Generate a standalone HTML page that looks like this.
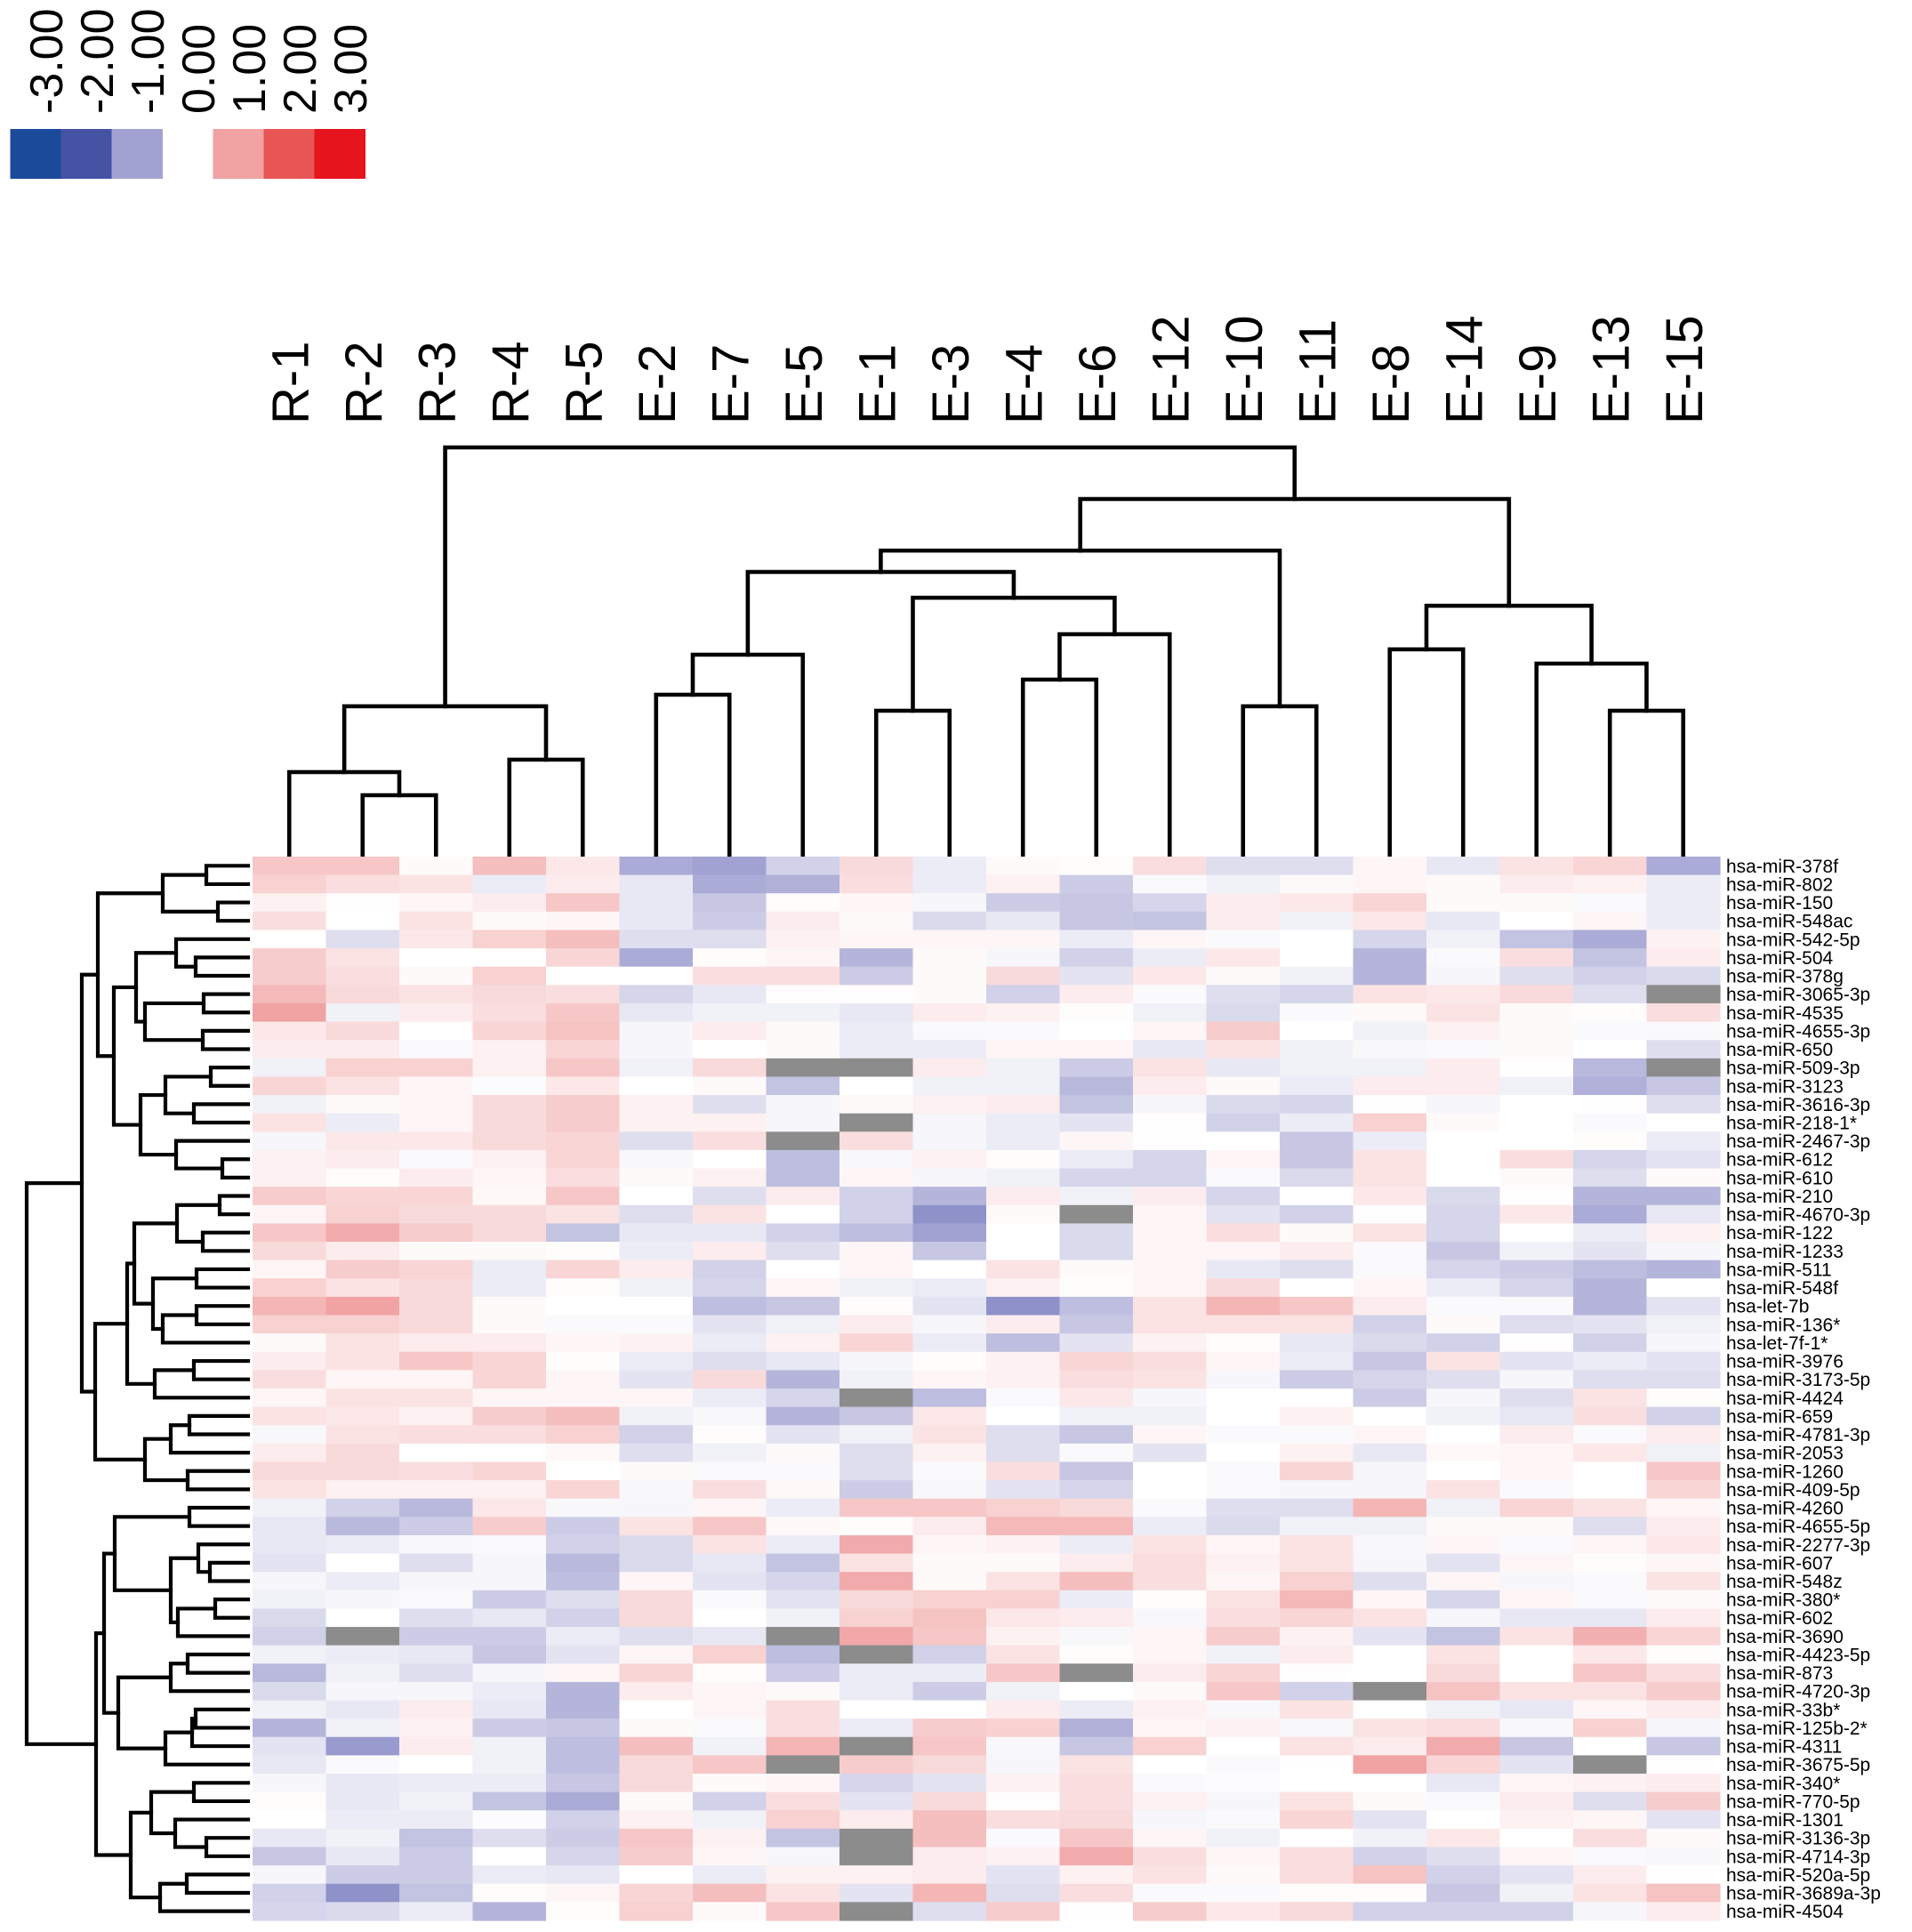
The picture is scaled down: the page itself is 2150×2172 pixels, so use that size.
<!DOCTYPE html>
<html><head><meta charset="utf-8"><style>
html,body{margin:0;padding:0;background:#fff;}
svg{display:block;font-family:"Liberation Sans",Arial,sans-serif;}
</style></head><body>
<svg id="chart" width="2150" height="2172" viewBox="0 0 2150 2172" xmlns="http://www.w3.org/2000/svg">
<g id="legend"></g>
<g id="collabels"></g>
<g id="topdend"></g>
<g id="leftdend"></g>
<g id="cells"></g>
<g id="rowlabels"></g>
</svg>
<script>
const legendValues = [-3, -2, -1, 0, 1, 2, 3];
const legendLabels = ["-3.00","-2.00","-1.00","0.00","1.00","2.00","3.00"];
const columns = ["R-1","R-2","R-3","R-4","R-5","E-2","E-7","E-5","E-1","E-3","E-4","E-6","E-12","E-10","E-11","E-8","E-14","E-9","E-13","E-15"];
const rows = ["hsa-miR-378f","hsa-miR-802","hsa-miR-150","hsa-miR-548ac","hsa-miR-542-5p","hsa-miR-504","hsa-miR-378g","hsa-miR-3065-3p","hsa-miR-4535","hsa-miR-4655-3p","hsa-miR-650","hsa-miR-509-3p","hsa-miR-3123","hsa-miR-3616-3p","hsa-miR-218-1*","hsa-miR-2467-3p","hsa-miR-612","hsa-miR-610","hsa-miR-210","hsa-miR-4670-3p","hsa-miR-122","hsa-miR-1233","hsa-miR-511","hsa-miR-548f","hsa-let-7b","hsa-miR-136*","hsa-let-7f-1*","hsa-miR-3976","hsa-miR-3173-5p","hsa-miR-4424","hsa-miR-659","hsa-miR-4781-3p","hsa-miR-2053","hsa-miR-1260","hsa-miR-409-5p","hsa-miR-4260","hsa-miR-4655-5p","hsa-miR-2277-3p","hsa-miR-607","hsa-miR-548z","hsa-miR-380*","hsa-miR-602","hsa-miR-3690","hsa-miR-4423-5p","hsa-miR-873","hsa-miR-4720-3p","hsa-miR-33b*","hsa-miR-125b-2*","hsa-miR-4311","hsa-miR-3675-5p","hsa-miR-340*","hsa-miR-770-5p","hsa-miR-1301","hsa-miR-3136-3p","hsa-miR-4714-3p","hsa-miR-520a-5p","hsa-miR-3689a-3p","hsa-miR-4504"];
const N = null;
const values = [
[0.6,0.6,0.05,0.7,0.25,-0.9,-1.0,-0.5,0.4,-0.2, 0.05,0.03,0.35,-0.35,-0.35,0.1,-0.25,0.3,0.45,-0.9],
[0.5,0.35,0.3,-0.2,0.2,-0.25,-0.9,-0.85,0.35,-0.2, 0.15,-0.55,-0.05,-0.15,0.05,0.1,0.05,0.2,0.15,-0.2],
[0.15,0.02,0.1,0.2,0.6,-0.25,-0.6,0.03,0.1,-0.1, -0.55,-0.6,-0.45,0.2,0.25,0.45,0.05,0.05,-0.05,-0.2],
[0.35,0,0.3,0.05,0.1,-0.25,-0.55,0.2,0.05,-0.4, -0.25,-0.6,-0.65,0.2,-0.15,0.25,-0.25,0,0.1,-0.2],
[0,-0.35,0.25,0.5,0.7,-0.35,-0.35,0.15,0.1,0.1, 0.1,-0.2,0.1,-0.05,0,-0.45,-0.15,-0.65,-0.9,0.15],
[0.55,0.3,0,0,0.45,-0.9,0.03,0.1,-0.8,0.05, -0.1,-0.5,-0.2,0.25,0,-0.8,-0.05,0.35,-0.65,0.2],
[0.55,0.35,0.05,0.5,0,0,0.35,0.35,-0.55,0.05, 0.4,-0.3,0.25,0.05,-0.15,-0.8,-0.1,-0.35,-0.5,-0.4],
[0.75,0.4,0.3,0.4,0.35,-0.45,-0.25,0.02,0.02,0.05, -0.5,0.2,-0.05,-0.35,-0.45,0.3,0.25,0.4,-0.35,N],
[1.0,-0.15,0.2,0.35,0.6,-0.25,-0.15,-0.15,-0.25,0.2, 0.15,0.03,-0.15,-0.4,-0.05,0.05,0.3,0.05,0.03,0.35],
[0.25,0.4,0,0.45,0.65,-0.1,0.2,0.05,-0.2,-0.05, -0.05,0,0.1,0.55,0,-0.15,0.15,0.05,-0.05,-0.05],
[0.2,0.2,-0.05,0.15,0.45,-0.1,0,0.05,-0.2,-0.2, 0.1,0.1,-0.25,0.3,-0.15,-0.08,-0.05,0.05,0,-0.35],
[-0.15,0.5,0.5,0.15,0.6,-0.15,0.4,N,N,0.2, -0.15,-0.55,0.3,-0.25,-0.15,-0.15,0.2,0.02,-0.75,N],
[0.45,0.3,0.1,-0.03,0.25,0,0.05,-0.65,0,-0.15, -0.15,-0.75,0.2,0.05,-0.2,0.2,0.2,-0.15,-0.85,-0.6],
[-0.15,0.05,0.1,0.4,0.55,0.15,-0.35,-0.1,0.05,0.15, 0.2,-0.65,-0.1,-0.4,-0.45,0.02,-0.1,0,0.02,-0.35],
[0.3,-0.2,0.1,0.4,0.55,0.15,0.15,-0.1,N,-0.1, -0.2,-0.3,0.02,-0.5,-0.2,0.5,0.05,0,-0.05,0],
[-0.1,0.25,0.25,0.4,0.45,-0.35,0.35,N,0.35,-0.1, -0.2,0.1,0.02,0,-0.6,-0.2,0,0,0.03,-0.2],
[0.15,0.2,-0.05,0.15,0.45,-0.08,0,-0.7,-0.08,0.15, 0.03,-0.2,-0.45,0.1,-0.6,0.3,0,0.35,-0.45,-0.3],
[0.15,0.03,0.2,0.1,0.35,0.05,0.15,-0.7,0.1,-0.1, -0.15,-0.45,-0.45,-0.05,-0.4,0.3,0,0.05,-0.35,0.05],
[0.55,0.45,0.45,0.08,0.6,0,-0.35,0.2,-0.5,-0.8, 0.2,-0.15,0.2,-0.45,0,0.25,-0.4,0.02,-0.8,-0.8],
[0.1,0.5,0.4,0.4,0.3,-0.35,0.3,0,-0.5,-1.2, 0.05,N,0.1,-0.3,-0.5,0.02,-0.45,0.25,-0.9,-0.25],
[0.6,0.9,0.55,0.4,-0.65,-0.25,-0.25,-0.5,-0.7,-1.0, 0,-0.4,0.1,0.35,0.05,0.3,-0.45,0,-0.2,0.15],
[0.4,0.2,0.05,0.05,0.03,-0.2,0.2,-0.35,0.1,-0.6, 0,-0.4,0.1,0.1,0.2,-0.05,-0.6,-0.15,-0.3,-0.1],
[0.1,0.55,0.45,-0.2,0.45,0.2,-0.5,0,0.1,0, 0.3,0.05,0.1,-0.25,-0.35,-0.05,-0.45,-0.55,-0.7,-0.8],
[0.5,0.3,0.4,-0.2,0.03,-0.15,-0.45,0.1,-0.15,-0.2, 0.15,0.03,0.1,0.4,0,0.1,-0.2,-0.45,-0.8,0],
[0.8,1.0,0.4,0.05,0,0,-0.7,-0.6,0.03,-0.3, -1.2,-0.7,0.3,0.8,0.6,0.2,-0.05,-0.05,-0.8,-0.3],
[0.5,0.5,0.4,0.05,-0.05,-0.05,-0.3,-0.15,0.2,-0.1, 0.2,-0.6,0.3,0.3,0.3,-0.5,0.05,-0.35,-0.3,-0.15],
[0.05,0.3,0.2,0.2,0.1,0.15,-0.2,0.15,0.45,-0.2, -0.7,-0.3,0.15,0.03,-0.25,-0.4,-0.5,0.02,-0.5,-0.1],
[0.2,0.3,0.6,0.45,0.03,-0.2,-0.35,-0.25,-0.1,0.03, 0.15,0.45,0.35,0.1,-0.2,-0.6,0.3,-0.3,-0.2,-0.3],
[0.35,0.1,0.1,0.45,0.1,-0.3,0.4,-0.8,-0.15,0.1, 0.15,0.35,0.3,-0.1,-0.55,-0.45,-0.35,-0.1,-0.35,-0.35],
[0.1,0.3,0.3,0.1,0.1,0.1,-0.2,-0.45,N,-0.7, -0.05,0.25,-0.1,0,0,-0.55,-0.1,-0.35,0.3,0.03],
[0.3,0.25,0.15,0.55,0.7,-0.15,-0.08,-0.8,-0.6,0.25, 0,-0.15,-0.15,0,0.15,0,-0.15,-0.25,0.35,-0.5],
[-0.08,0.3,0.35,0.35,0.5,-0.5,0.03,-0.3,-0.15,0.3, -0.35,-0.6,0.1,-0.05,-0.05,0.1,0,0.2,-0.05,0.2],
[0.2,0.4,0,0,0.08,-0.35,-0.15,0.05,-0.35,0.15, -0.35,-0.05,-0.3,0,0.15,-0.25,0.08,0.1,0.25,-0.15],
[0.4,0.4,0.35,0.45,0,0.05,-0.05,-0.05,-0.35,-0.05, 0.35,-0.6,0,-0.05,0.45,-0.1,0,0.1,0,0.6],
[0.3,0.15,0.15,0.15,0.45,-0.08,0.35,0.08,-0.55,-0.08, -0.3,-0.45,0,-0.05,-0.1,-0.1,0.3,-0.05,0,0.45],
[-0.15,-0.5,-0.75,0.25,-0.08,-0.1,0.1,-0.2,0.6,0.6, 0.5,0.4,-0.05,-0.35,-0.35,0.8,-0.15,0.45,0.3,0.1],
[-0.25,-0.75,-0.55,0.55,-0.55,0.3,0.6,0.08,0.03,0.2, 0.75,0.75,-0.2,-0.4,-0.15,-0.15,0.05,0.05,-0.35,0.2],
[-0.25,-0.2,-0.08,-0.05,-0.5,-0.4,0.3,-0.2,0.9,0.1, 0.15,-0.2,0.3,0.1,0.3,-0.08,0.1,-0.05,0.1,0.25],
[-0.3,0,-0.35,-0.1,-0.75,-0.4,-0.25,-0.65,0.3,0.05, 0.05,0.2,0.35,0.15,0.3,-0.1,-0.3,0.1,0.03,0.1],
[-0.1,-0.2,-0.1,-0.1,-0.7,0.1,-0.3,-0.45,0.9,0.05, 0.3,0.7,0.35,0.1,0.5,-0.35,0.1,-0.1,-0.05,0.3],
[-0.15,-0.1,-0.05,-0.55,-0.35,0.4,-0.05,-0.3,0.4,0.5, 0.5,-0.2,0.03,0.3,0.75,0.1,-0.45,0.1,-0.05,0.05],
[-0.4,0,-0.35,-0.25,-0.5,0.4,0,-0.15,0.5,0.65, 0.25,0.2,-0.08,0.35,0.45,0.3,-0.1,-0.25,-0.25,0.2],
[-0.5,N,-0.55,-0.55,-0.2,-0.35,-0.25,N,0.95,0.6, 0.15,-0.08,0.1,0.55,0.15,-0.3,-0.65,0.3,0.85,0.45],
[-0.15,-0.2,-0.25,-0.6,-0.3,0.1,0.5,-0.7,N,-0.5, 0.3,0.03,0.1,-0.15,0.2,0,0.3,0,0.25,0.03],
[-0.75,-0.15,-0.35,-0.1,0.1,0.45,0.03,-0.55,-0.2,-0.2, 0.6,N,0.2,0.45,0.02,0,0.4,0,0.6,0.35],
[-0.4,-0.1,-0.1,-0.2,-0.8,0.2,0.1,0.05,-0.2,-0.55, -0.15,0,0.05,0.6,-0.5,N,0.65,0.3,0.3,0.55],
[-0.15,-0.25,0.2,-0.25,-0.8,0,0.1,0.35,0,0, 0.2,-0.2,0.15,-0.08,0.3,0,-0.15,-0.25,0.1,0.2],
[-0.8,-0.15,0.15,-0.55,-0.6,0.05,-0.05,0.35,-0.2,0.55, 0.5,-0.85,0.1,0.15,-0.08,0.3,0.35,-0.08,0.5,-0.1],
[-0.3,-1.1,0.2,-0.15,-0.7,0.7,-0.15,0.8,N,0.6, -0.08,-0.6,0.5,0,0.3,0.2,0.9,-0.6,0,-0.6],
[-0.25,-0.05,0,-0.15,-0.7,0.4,0.6,N,0.55,0.4, -0.1,0.3,0,-0.05,0.02,1.0,0.45,-0.3,N,0.02],
[-0.1,-0.25,-0.2,-0.2,-0.6,0.4,0.05,0.1,-0.45,-0.3, 0.15,0.35,-0.05,-0.03,0,0,-0.25,0.1,0.15,0.2],
[0.03,-0.25,-0.15,-0.65,-0.9,0.05,-0.5,0.35,-0.3,0.4, 0.02,0.35,0.15,-0.1,0.3,0.05,-0.05,0.2,-0.35,0.55],
[0,-0.2,-0.2,-0.03,-0.5,0.15,-0.15,0.5,0.2,0.7, 0.35,0.4,-0.1,-0.05,0.45,-0.3,0,0.15,0.1,-0.3],
[-0.25,-0.15,-0.65,-0.35,-0.55,0.6,0.15,-0.65,N,0.7, -0.05,0.6,0.1,-0.15,0,-0.15,0.25,0,0.35,0.05],
[-0.6,-0.25,-0.55,0,-0.45,0.55,0.1,-0.1,N,0.2, 0.15,0.9,0.35,0.1,0.35,-0.5,-0.35,0.1,-0.05,-0.08],
[-0.1,-0.55,-0.55,-0.2,-0.25,0,-0.2,0.15,0.15,0.2, -0.3,0.15,0.3,0.05,0.35,0.65,-0.5,-0.3,0.2,0.02],
[-0.5,-1.2,-0.65,0.03,0.1,0.45,0.7,0.3,-0.3,0.8, -0.35,0.35,-0.05,-0.05,0.03,0.03,-0.6,-0.15,0.3,0.65],
[-0.45,-0.4,-0.2,-0.8,0.03,0.5,0.05,0.6,N,-0.35, 0.55,0.02,0.55,0.25,0.4,-0.5,-0.5,-0.5,-0.1,0.2]
];
// dendrogram linkages: [left, right, mergeHeight]; integers are leaf indices
const colTree = [
  [[0,[1,2,66],92],[3,4,106],166],
  [
    [[[[5,6,179],7,224],[[8,9,161],[[10,11,196],12,247],288],317],[13,14,166],341],
    [[15,16,230],[17,[18,19,161],214],279],
    399],
  457];
const rowTree = [
  [
    [[[0,1,47],[2,3,34],96],
     [[[4,[5,6,59],81],[[7,8,50],[9,10,51],116],126],
      [[[11,12,42],[13,14,61],93],[15,[16,17,29],81],121],151],169],
    [[[[[18,19,32],[20,21,51],80],[[22,23,58],[[24,25,58],26,96],107],128],
      [[27,28,61],29,105],136],
     [[[30,31,66],32,87],[33,34,68],116],172],
    187],
  [
    [[[35,36,66],[[37,[38,39,43],56],[[40,41,37],42,79],87],150],
     [[[43,44,68],45,87],[[[46,47,59],48,63],49,93],146],162],
    [[[50,51,61],[52,[53,54,47],82],109],[[55,56,69],57,99],132],
    171],
  249];
</script>
<script>
const NS = "http://www.w3.org/2000/svg";
const X0 = 284, CW = 82.5, Y0 = 963, RH = 20.62;
const xCol = i => X0 + CW * (i + 0.5);
const yRow = i => Y0 + RH * (i + 0.5);
const topBase = 960, topScale = 1.0;
const leftBase = 279, leftScale = 1.0;

function mk(tag, attrs, parent) {
  const e = document.createElementNS(NS, tag);
  for (const k in attrs) e.setAttribute(k, attrs[k]);
  parent.appendChild(e);
  return e;
}
function lerp(a, b, t) { return a.map((v, i) => Math.round(v + (b[i] - v) * t)); }
const posStops = [[255,255,255],[241,162,163],[232,85,85],[230,20,28]];
const negStops = [[255,255,255],[162,162,210],[69,83,165],[27,74,155]];
function color(v) {
  if (v === null) return "#8c8c8c";
  const s = v >= 0 ? posStops : negStops;
  let a = Math.min(Math.abs(v), 3);
  const k = Math.min(Math.floor(a), 2);
  const c = lerp(s[k], s[k + 1], a - k);
  return `rgb(${c[0]},${c[1]},${c[2]})`;
}

const lg = document.getElementById('legend');
legendValues.forEach((v, i) => {
  const cx = 40 + 57 * i;
  if (v !== 0) {
    const r = mk('rect', {x: cx - 28.5, y: 145, width: 57.5, height: 56, fill: color(v)}, lg);
    
    
  }
  const t = mk('text', {x: 0, y: 0, 'font-size': 52, transform: `translate(${cx + 30},128) rotate(-90)`}, lg);
  t.textContent = legendLabels[i];
  
  
});

const cl = document.getElementById('collabels');
columns.forEach((c, i) => {
  const t = mk('text', {x: 0, y: 0, 'font-size': 58, transform: `translate(${xCol(i) + 21},477) rotate(-90)`}, cl);
  t.textContent = c;
  
  
});

function drawTree(node, g, orient) {
  if (typeof node === 'number') {
    return [orient === 'top' ? xCol(node) : yRow(node), 0];
  }
  const a = drawTree(node[0], g, orient), b = drawTree(node[1], g, orient);
  const h = node[2];
  let d;
  if (orient === 'top') {
    const y = topBase - h * topScale, ya = topBase - a[1] * topScale, yb = topBase - b[1] * topScale;
    d = `M${a[0]},${a[1] ? ya : 962}V${y}H${b[0]}V${b[1] ? yb : 962}`;
  } else {
    const x = leftBase - h * leftScale, xa = leftBase - a[1] * leftScale, xb = leftBase - b[1] * leftScale;
    d = `M${xa},${a[0]}H${x}V${b[0]}H${xb}`;
  }
  const p = mk('path', {d: d, fill: 'none', stroke: '#000', 'stroke-width': orient === 'top' ? 4.6 : 4.2, 'stroke-linecap': 'square'}, g);
  
  
  return [(a[0] + b[0]) / 2, h];
}
drawTree(colTree, document.getElementById('topdend'), 'top');
drawTree(rowTree, document.getElementById('leftdend'), 'left');

const cg = document.getElementById('cells');
values.forEach((row, r) => {
  row.forEach((v, c) => {
    const e = mk('rect', {x: X0 + CW * c, y: Y0 + RH * r, width: CW + 0.6, height: RH + 0.6, fill: color(v)}, cg);
    
    
  });
});

const rl = document.getElementById('rowlabels');
rows.forEach((n, i) => {
  const t = mk('text', {x: 1941, y: yRow(i) + 7.5, 'font-size': 21}, rl);
  t.textContent = n;
  
  
});
</script>
</body></html>
